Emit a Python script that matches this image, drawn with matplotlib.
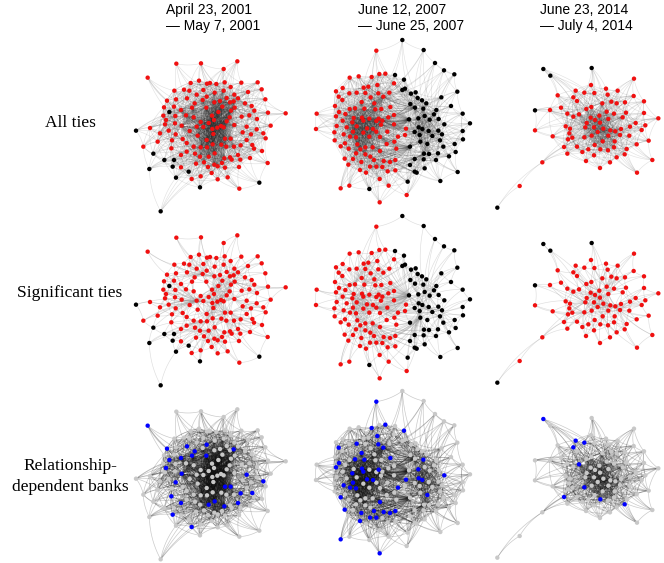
import numpy as np
import matplotlib
matplotlib.use("Agg")
import matplotlib.pyplot as plt
from matplotlib.collections import LineCollection

# ---------------- data ----------------
titles = ["April 23, 2001\n\u2014 May 7, 2001",
          "June 12, 2007\n\u2014 June 25, 2007",
          "June 23, 2014\n\u2014 July 4, 2014"]
row_labels = [["All ties"], ["Significant ties"], ["Relationship-", "dependent banks"]]

# node layout coordinates (layout units)
p1_red = [(199,71),(273,70),(382,64),(341,87),(113,113),(267,122),(242,129),(291,131),(300,129),(319,132),
          (344,127),(394,128),(443,127),(362,141),(222,149),(193,152),(238,152),(341,152),(280,150),(455,148),
          (414,156),(314,158),(260,164),(373,164),(290,170),(231,175),(198,178),(171,182),(466,178),(350,174),
          (384,175),(278,180),(313,187),(330,183),(360,187),(162,202),(192,200),(254,190),(405,190),(425,198),
          (213,210),(246,203),(289,203),(337,200),(374,203),(433,212),(363,212),(325,216),(474,218),(527,220),
          (160,227),(196,228),(228,226),(251,232),(306,227),(359,232),(312,240),(441,237),(395,230),(418,226),
          (296,249),(272,246),(350,244),(165,253),(195,250),(215,257),(333,258),(373,255),(410,260),(482,257),
          (120,264),(260,260),(280,261),(307,267),(322,263),(341,262),(440,268),(239,273),(150,280),(176,272),
          (460,280),(467,295),(197,283),(263,287),(310,282),(398,277),(423,283),(345,296),(362,296),(218,297),
          (290,300),(410,300),(143,305),(186,301),(230,309),(251,320),(272,322),(308,313),(334,314),(372,320),
          (392,316),(427,315),(100,320),(184,325),(291,322),(349,320),(213,345),(255,341),(296,350),(314,340),
          (343,355),(360,352),(384,345),(456,333),(432,326),(230,335),(270,350),(420,354),(258,371),(282,367),
          (313,374),(336,369),(365,359),(391,359),(473,369),(213,382),(323,379),(345,383),(387,381),(294,381),
          (245,417),(272,409),(305,399),(323,418),(353,412),(388,446),(168,240),(371,184)]
p1_black = [(178,216),(78,272),(130,341),(163,360),(192,360),(188,380),(118,387),(236,395),(198,413),
            (270,442),(448,428),(152,514)]
p1_dep = [(113,113),(171,182),(232,172),(260,180),(262,189),(290,171),(371,184),(179,217),(215,214),
          (234,199),(246,202),(290,202),(168,240),(221,257),(200,285),(404,266),(447,281),(345,296),
          (364,301),(391,305),(427,318),(184,324),(211,346),(371,340),(297,350),(316,356),(341,355),
          (188,381),(243,419)]

p2_red = [(229,62),(149,143),(176,139),(215,141),(238,132),(256,131),(282,160),(128,174),(108,184),(191,173),
          (205,170),(232,165),(148,190),(170,188),(196,189),(235,190),(268,188),(116,200),(212,202),(250,200),
          (127,210),(185,216),(223,220),(271,231),(105,228),(149,237),(165,235),(193,236),(226,238),(244,237),
          (50,251),(117,246),(136,252),(108,259),(161,264),(186,263),(208,266),(236,266),(265,262),(282,255),
          (128,272),(157,277),(190,272),(229,273),(247,272),(110,288),(140,292),(170,289),(201,295),(219,297),
          (243,284),(282,283),(48,297),(318,296),(103,307),(159,305),(190,308),(229,305),(262,305),(294,320),
          (315,315),(131,313),(150,320),(168,322),(208,320),(240,321),(104,331),(135,340),(122,349),(172,343),
          (196,352),(218,352),(260,342),(283,335),(146,356),(181,358),(240,363),(289,356),(168,370),(196,373),
          (211,380),(134,386),(159,387),(184,396),(222,390),(251,393),(270,396),(286,390),(210,410),(229,410),
          (145,404),(247,411),(180,420),(198,428),(263,424),(286,421),(239,447),(148,467),(122,475),(266,467),
          (320,495),(239,517)]
p2_black = [(307,30),(371,60),(405,99),(432,121),(463,133),(285,135),(312,149),(307,180),(315,176),(333,191),
            (347,187),(472,185),(353,204),(366,211),(379,220),(424,202),(331,222),(345,233),(370,236),(409,240),
            (453,228),(488,251),(402,253),(327,268),(355,265),(374,258),(389,269),(416,267),(433,283),(510,280),
            (356,292),(367,297),(344,306),(386,303),(415,302),(426,313),(359,315),(397,318),(488,303),(489,328),
            (361,335),(420,331),(382,342),(430,350),(464,342),(330,350),(372,371),(387,372),(414,370),(447,379),
            (467,366),(344,387),(371,388),(408,390),(330,405),(374,415),(344,425),(350,428),(473,426),(323,455),
            (421,453),(208,477)]
p2_dep = [(229,62),(256,131),(215,142),(313,149),(232,166),(166,189),(115,200),(235,191),(249,201),(184,217),
          (196,227),(162,235),(273,229),(368,233),(122,247),(105,258),(185,264),(232,269),(193,272),(208,283),
          (354,265),(156,290),(215,297),(319,296),(358,293),(362,304),(434,284),(133,311),(163,310),(158,319),
          (160,330),(295,322),(388,336),(119,349),(240,366),(182,381),(255,383),(281,391),(269,396),(134,389),
          (245,398),(221,401),(230,412),(216,414),(179,422),(122,477),(239,517)]

p3_red = [(432,86),(303,105),(348,116),(383,122),(257,122),(283,128),(313,129),(353,134),(431,138),(203,136),
          (250,142),(261,153),(405,157),(462,154),(337,160),(364,155),(380,160),(213,173),(180,180),(304,171),
          (289,177),(232,191),(267,193),(328,197),(350,185),(372,191),(408,188),(462,189),(302,203),(250,200),
          (315,210),(330,218),(355,207),(398,202),(505,205),(437,219),(290,219),(227,229),(240,236),(286,232),
          (312,232),(323,246),(340,236),(361,241),(376,244),(393,237),(420,230),(455,240),(466,226),(135,241),
          (188,259),(238,250),(247,263),(283,262),(305,257),(355,257),(390,255),(418,257),(234,268),(338,274),
          (374,274),(476,272),(314,285),(440,283),(222,291),(261,290),(295,298),(331,298),(372,292),(410,297),
          (232,311),(277,306),(312,316),(354,301),(404,313),(380,322),(288,333),(360,337),(487,330),(157,337),
          (330,354),(441,368),(89,408)]
p3_black = [(160,57),(305,54),(181,77),(135,181),(22,473)]
p3_dep = [(160,57),(257,122),(283,128),(250,142),(267,193),(283,262),(222,291),(331,298),(404,313)]

layouts = [(p1_red, p1_black, p1_dep), (p2_red, p2_black, p2_dep), (p3_red, p3_black, p3_dep)]

# ---------------- placement / style ----------------
W, H, DPI = 664, 563, 100
col_origin = [(110, 40), (300, 30), (490, 50)]      # pixel origin of each column's panel
col_shift = [(0, 174, 348), (0, 176, 351), (0, 175, 350)]
panel_w, panel_h = 205, 195
scale = 3.0   # layout units per pixel
title_x = [166, 358, 540]

RED, BLACK, BLUE, GREY = "#f01010", "#000000", "#0000ff", "#c8c8c8"


def make_edges(pts, groups, radius, k, hub_links, hub_frac, hub_radius, hub_reach, cross_links):
    n = len(pts)
    d = np.hypot(pts[:, None, 0] - pts[None, :, 0], pts[:, None, 1] - pts[None, :, 1])
    E = set()
    for i in range(n):
        for j in range(i + 1, n):
            if d[i, j] < radius:
                E.add((i, j))
        for j in np.argsort(d[i])[1:k + 1]:
            E.add((min(i, j), max(i, j)))
    dens = (d < 70).sum(1)
    hubs = []
    for g in set(groups):
        idx = np.where(groups == g)[0]
        if len(idx) >= 20:
            hubs += list(idx[np.argsort(-dens[idx])[:int(hub_frac * len(idx))]])
    hubs = np.array(hubs)
    # dense core: hubs of one community linked to each other
    for a in hubs:
        for b in hubs:
            if a < b and groups[a] == groups[b] and d[a, b] < hub_radius:
                E.add((a, b))
    # every node tied to a few nearby core nodes, plus ties into the other community
    for i in range(n):
        cnt = 0
        for h in hubs[np.argsort(d[i, hubs])]:
            if h == i or d[i, h] > hub_reach:
                continue
            E.add((min(i, h), max(i, h)))
            cnt += 1
            if cnt >= hub_links:
                break
        other = hubs[groups[hubs] != groups[i]]
        if len(other):
            for h in other[np.argsort(d[i, other])][:cross_links]:
                if d[i, h] < hub_reach:
                    E.add((min(i, h), max(i, h)))
    return sorted(E)


def curves(pts, E, bend=0.12, nseg=12):
    t = np.linspace(0, 1, nseg)[:, None]
    segs = []
    for a, b in E:
        p0, p2 = pts[a], pts[b]
        v = p2 - p0
        c = (p0 + p2) / 2 + bend * np.array([-v[1], v[0]])
        segs.append((1 - t) ** 2 * p0 + 2 * (1 - t) * t * c + t ** 2 * p2)
    return segs


fig = plt.figure(figsize=(W / DPI, H / DPI), dpi=DPI)
fig.patch.set_facecolor("white")

for c, (red, black, dep) in enumerate(layouts):
    pts = np.array(red + black, float)
    groups = np.array(["r"] * len(red) + ["k"] * len(black))
    dep_arr = np.array(dep, float)
    is_dep = np.zeros(len(pts), bool)
    for q in dep_arr:
        is_dep[np.argmin(np.hypot(*(pts - q).T))] = True

    e_all = make_edges(pts, groups, radius=80, k=2, hub_links=4, hub_frac=0.35,
                       hub_radius=170, hub_reach=220, cross_links=2)
    e_sig = make_edges(pts, groups, radius=45, k=2, hub_links=2, hub_frac=0.2,
                       hub_radius=80, hub_reach=200, cross_links=1)
    seg_all = curves(pts, e_all)
    seg_sig = curves(pts, e_sig)

    ox, oy = col_origin[c]
    for r in range(3):
        top = oy + col_shift[c][r]
        ax = fig.add_axes([ox / W, 1 - (top + panel_h) / H, panel_w / W, panel_h / H])
        ax.set_xlim(0, panel_w * scale)
        ax.set_ylim(panel_h * scale, 0)
        ax.axis("off")
        if r == 0:
            lc = LineCollection(seg_all, colors="#202020", linewidths=0.45, alpha=0.13)
            cols = np.where(groups == "r", RED, BLACK)
        elif r == 1:
            lc = LineCollection(seg_sig, colors="#909090", linewidths=0.45, alpha=0.3)
            cols = np.where(groups == "r", RED, BLACK)
        else:
            lc = LineCollection(seg_all, colors="#101010", linewidths=0.5, alpha=0.22)
            cols = np.where(is_dep, BLUE, GREY)
        lc.set_clip_on(False)
        ax.add_collection(lc)
        order = np.argsort(cols == BLUE, kind="stable") if r == 2 else np.arange(len(pts))
        ax.scatter(pts[order, 0], pts[order, 1], s=10, c=cols[order], linewidths=0,
                   zorder=3, clip_on=False)

    fig.text(title_x[c] / W, 1 - 3 / H, titles[c], ha="left", va="top",
             fontsize=10, family="Liberation Sans", linespacing=1.2)

label_baselines = [[127], [297], [470, 491]]
for lines, ys in zip(row_labels, label_baselines):
    for txt, y in zip(lines, ys):
        fig.text(70 / W, 1 - y / H, txt, ha="center", va="baseline",
                 fontsize=12.5, family="Liberation Serif")

fig.savefig("out.png", dpi=DPI, facecolor="white")
